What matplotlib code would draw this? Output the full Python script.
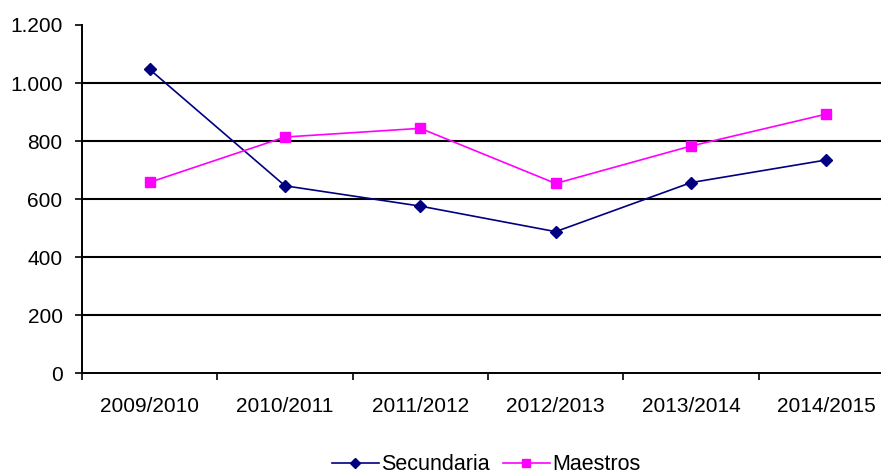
import matplotlib
matplotlib.use("Agg")
import matplotlib.pyplot as plt
from matplotlib.ticker import FuncFormatter, FixedLocator

plt.rcParams['font.family'] = ['Liberation Sans', 'DejaVu Sans']

categories = ["2009/2010", "2010/2011", "2011/2012", "2012/2013", "2013/2014", "2014/2015"]
secundaria = [1047, 646, 576, 488, 657, 735]
maestros = [658, 814, 844, 654, 783, 893]
y_ticks = [0, 200, 400, 600, 800, 1000, 1200]

W, H = 881, 475
fig = plt.figure(figsize=(W / 100, H / 100), dpi=100)
left, right, top, bottom = 82, 894, 25, 373.3
ax = fig.add_axes([left / W, 1 - bottom / H, (right - left) / W, (bottom - top) / H])

x = list(range(len(categories)))
for yv in y_ticks[1:-1]:
    ax.axhline(yv, color='#000000', lw=1.5, zorder=1)

l1, = ax.plot(x, secundaria, color='#000080', lw=1.2, marker='D', markersize=6,
              markerfacecolor='#000080', markeredgecolor='#000080', label='Secundaria', zorder=3)
l2, = ax.plot(x, maestros, color='#FF00FF', lw=1.2, marker='s', markersize=7,
              markerfacecolor='#FF00FF', markeredgecolor='#FF00FF', label='Maestros', zorder=3)

ax.set_xlim(-0.5, len(categories) - 0.5)
ax.set_ylim(0, 1200)
ax.set_yticks(y_ticks)
ax.yaxis.set_major_formatter(FuncFormatter(lambda v, p: f"{int(v):,}".replace(",", ".")))

ax.xaxis.set_major_locator(FixedLocator([i - 0.5 for i in range(len(categories) + 1)]))
ax.xaxis.set_major_formatter(FuncFormatter(lambda v, p: ""))
ax.xaxis.set_minor_locator(FixedLocator(x))
ax.set_xticklabels(categories, minor=True)
ax.tick_params(axis='x', which='minor', length=0, pad=17, labelsize=15)
ax.tick_params(axis='x', which='major', length=5, width=1.2, direction='out')
ax.tick_params(axis='y', length=5, width=1.2, direction='out', pad=9, labelsize=15)

for s in ['top', 'right']:
    ax.spines[s].set_visible(False)
for s in ['left', 'bottom']:
    ax.spines[s].set_linewidth(1.4)
    ax.spines[s].set_color('#000000')
ax.set_facecolor('white')

fig.legend(handles=[l1, l2], loc='center', bbox_to_anchor=(486 / W, 1 - 465 / H),
           ncol=2, frameon=False, fontsize=15.5, handlelength=2.2, handletextpad=0.1,
           columnspacing=0.6, markerscale=0.8, borderpad=0)

fig.savefig("out.png", dpi=100, facecolor='white')
